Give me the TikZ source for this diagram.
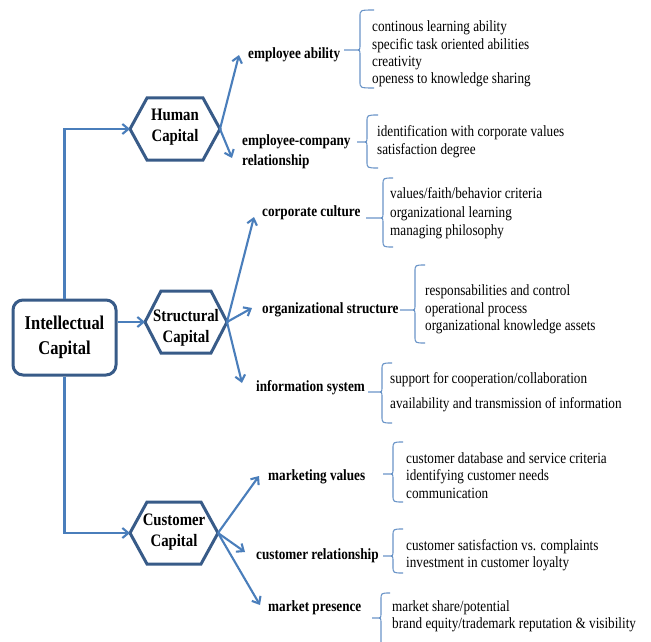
\documentclass[tikz,border=0pt]{standalone}
\usepackage{fontspec}
\setmainfont{Liberation Serif}[FakeStretch=0.845]
\usetikzlibrary{arrows.meta,calc}
\definecolor{hexcol}{HTML}{385B88}
\definecolor{arrcol}{HTML}{4A7EBB}
\definecolor{brcol}{HTML}{6B95C8}
\newcommand\hexshape[6]{%
  \coordinate (#1W) at (#2-#4,#3);
  \coordinate (#1E) at (#2+#4,#3);
  \draw[hexline] (#1W) -- (#2-#4+#6,#3-#5) -- (#2+#4-#6,#3-#5) -- (#1E) -- (#2+#4-#6,#3+#5) -- (#2-#4+#6,#3+#5) -- cycle;
}
\newcommand\mybrace[6]{%
  \draw[brline] (#6,#2) .. controls (#1,#2) .. (#1,#2+7) -- (#1,#4-5) .. controls (#1,#4) .. (#1-5,#4) -- (#5,#4)
    (#1-5,#4) .. controls (#1,#4) .. (#1,#4+5) -- (#1,#3-7) .. controls (#1,#3) .. (#6,#3);
}
\begin{document}
\begin{tikzpicture}[x=1pt,y=-1pt,
  hexline/.style={draw=hexcol,line width=3pt,fill=white,line join=miter},
  hextext/.style={align=center,inner sep=0pt,font=\bfseries\fontsize{17.5}{21}\selectfont},
  arr/.style={draw=arrcol,line width=2.1pt,-{Straight Barb[length=6pt,width=10pt]}},
  brline/.style={draw=brcol,line width=1.1pt},
  lab/.style={anchor=west,inner sep=0pt,align=left,font=\bfseries\fontsize{15.6}{20}\selectfont},
  items/.style={anchor=west,inner sep=0pt,align=left,font=\fontsize{15.6}{17.5}\selectfont}]
\fill[white] (0,0) rectangle (651,642);
\useasboundingbox (0,0) rectangle (651,642);

% root
\node[draw=hexcol,line width=3pt,rounded corners=10pt,minimum width=103pt,minimum height=75pt,
  align=center,font=\bfseries\fontsize{19.5}{25}\selectfont] (ic) at (64.5,337.5) {Intellectual\\Capital};

% hexagons
\hexshape{hc}{175}{129}{45}{31}{17}
\node[hextext] (hc) at (175,127) {Human\\Capital};
\hexshape{sc}{186}{322}{41}{31}{16}
\node[hextext] (sc) at (186,328) {Structural\\Capital};
\hexshape{cc}{174}{533}{44}{31}{17}
\node[hextext] (cc) at (174,532) {Customer\\Capital};

\draw[arr] (ic.north) |- (hcW);
\draw[arr] (ic.east |- scW) -- (scW);
\draw[arr] (ic.south) |- (ccW);

% second level labels
\node[lab] (ea) at (248,55) {employee ability};
\node[lab] (ecr) at (242,152) {employee-company\\relationship};
\node[lab] (cu) at (262,213) {corporate culture};
\node[lab] (os) at (262,310) {organizational structure};
\node[lab] (is) at (256,388) {information system};
\node[lab] (mv) at (268,477) {marketing values};
\node[lab] (cr) at (256,556) {customer relationship};
\node[lab] (mp) at (268,608) {market presence};

\draw[arr] (hcE) -- ([shift={(-9,0)}]ea.west);
\draw[arr] (hcE) -- ([shift={(-10,6)}]ecr.west);
\draw[arr] (scE) -- ([shift={(-8,4)}]cu.west);
\draw[arr] (scE) -- ([shift={(-10,-2)}]os.west);
\draw[arr] (scE) -- ([shift={(-14,-5)}]is.west);
\draw[arr] (ccE) -- ([shift={(-9,-1)}]mv.west);
\draw[arr] (ccE) -- ([shift={(-11,-4)}]cr.west);
\draw[arr] (ccE) -- ([shift={(-8,-3)}]mp.west);

% braces
\mybrace{360}{10}{88}{50}{344}{374}
\mybrace{367}{115}{168}{142}{357}{378}
\mybrace{383}{178}{247}{218}{366}{393}
\mybrace{415}{265}{343}{310}{400}{425}
\mybrace{382}{363}{423}{392}{368}{392}
\mybrace{393}{442}{502}{474}{383}{403}
\mybrace{393}{529}{573}{556}{383}{403}
\mybrace{381}{593}{652}{618}{372}{390}

% items
\node[items,font=\fontsize{15.6}{17.3}\selectfont] (ea1) at (372,54) {continous learning ability\\specific task oriented abilities\\creativity\\openess to knowledge sharing};
\node[items,font=\fontsize{15.6}{18}\selectfont] (ecr1) at (377,142) {identification with corporate values\\satisfaction degree};
\node[items,font=\fontsize{15.6}{18.5}\selectfont] (cu1) at (390,213.5) {values/faith/behavior criteria\\organizational learning\\managing philosophy};
\node[items] (os1) at (425,309.5) {responsabilities and control\\operational process\\organizational knowledge assets};
\node[items,font=\fontsize{15.6}{25}\selectfont] (is1) at (390,392.5) {support for cooperation/collaboration\\availability and transmission of information};
\node[items] (mv1) at (406,475.5) {customer database and service criteria\\identifying customer needs\\communication};
\node[items,font=\fontsize{15.6}{17}\selectfont] (cr1) at (406,555) {customer satisfaction vs. complaints\\investment in customer loyalty};
\node[items,font=\fontsize{15.6}{17}\selectfont] (mp1) at (392,616.5) {market share/potential\\brand equity/trademark reputation \& visibility};
\end{tikzpicture}
\end{document}
